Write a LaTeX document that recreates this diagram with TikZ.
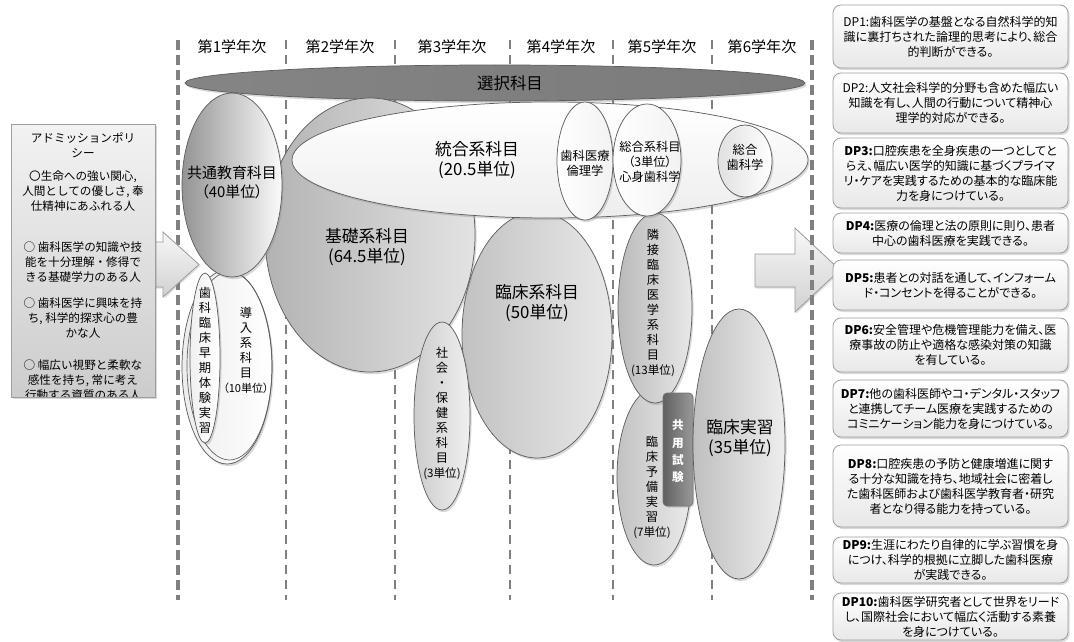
\documentclass[tikz,border=0pt]{standalone}
\usepackage{fontspec}
\setmainfont{Noto Sans CJK JP}
\newfontfamily\pfont{Noto Sans CJK JP}[RawFeature=+palt]
\usetikzlibrary{shapes.geometric,shadows}
\newcommand\pxu{0.75pt}
\newcommand\fsz[2]{\fontsize{#1}{#2}\selectfont}
\definecolor{dashc}{HTML}{808080}
\definecolor{edgec}{HTML}{5E5E5E}
\tikzset{
  ell/.style={ellipse, draw=edgec, line width=0.55pt, inner sep=0pt,
     drop shadow={opacity=0.3, shadow xshift=1.2pt, shadow yshift=-1.6pt}},
  thickdash/.style={draw=dashc, line width=2.6pt, dash pattern=on 7.5pt off 3.75pt},
  thindash/.style={draw=dashc, line width=1.1pt, dash pattern=on 6.75pt off 4.5pt},
  lbl/.style={align=center, inner sep=0pt, text=black},
  vtxt/.style={align=center, inner sep=0pt, font=\fsz{9.2}{11.25}},
  hdr/.style={inner sep=0pt, font=\fsz{11.3}{13}},
  blockarr/.style={draw=black!40, line width=0.6pt, top color=black!3, bottom color=black!18,
     drop shadow={opacity=0.25, shadow xshift=1pt, shadow yshift=-1.2pt}},
  dpbox/.style={rounded corners=6pt, draw=black!38, line width=0.6pt, top color=white, bottom color=black!9,
     drop shadow={opacity=0.3, shadow xshift=1.2pt, shadow yshift=-1.5pt},
     minimum width=235*\pxu, inner sep=0pt, align=center, font=\pfont\fsz{9}{11.25}},
  apbox/.style={draw=black!38, line width=0.6pt, top color=black!5, bottom color=black!20,
     drop shadow={opacity=0.3, shadow xshift=1.2pt, shadow yshift=-1.5pt},
     minimum width=144*\pxu, minimum height=273*\pxu, inner sep=0pt},
  aptxt/.style={align=center, inner sep=0pt, font=\fsz{8.7}{11.25}},
}
\begin{document}
\begin{tikzpicture}[x=0.75pt,y=-0.75pt]
\useasboundingbox (0,0) rectangle (1074,642);

% right block arrow (behind)
\coordinate (ra1) at (755,254);
\draw[blockarr] (ra1) -- (795,254) -- (795,228) -- (840,270) -- (795,312) -- (795,287) -- (755,287) -- cycle;

% vertical dashed year lines
\coordinate (vtL) at (178,40); \coordinate (vbL) at (178,600);
\coordinate (vtR) at (812,40); \coordinate (vbR) at (812,600);
\draw[thickdash] (vtL) -- (vbL);
\draw[thickdash] (vtR) -- (vbR);
\foreach \i/\x in {1/286,2/395,3/510,4/613,5/712}{
  \coordinate (vt\i) at (\x,40); \coordinate (vb\i) at (\x,600);
  \draw[thindash] (vt\i) -- (vb\i);
}

% year headers
\node[hdr] (y1) at (232,47) {第1学年次};
\node[hdr] (y2) at (340,47) {第2学年次};
\node[hdr] (y3) at (452,47) {第3学年次};
\node[hdr] (y4) at (561,47) {第4学年次};
\node[hdr] (y5) at (662,47) {第5学年次};
\node[hdr] (y6) at (762,47) {第6学年次};

% 選択科目
\node[ell, minimum width=620*\pxu, minimum height=36*\pxu, left color=black!48, middle color=white, right color=black!52] (sentaku) at (495,83) {};
\node[lbl, font=\fsz{12.3}{14}] (sentakuT) at (510,83) {選択科目};

% 導入系科目
\node[ell, minimum width=90*\pxu, minimum height=194*\pxu, left color=black!7, right color=white] (dounyu) at (227,367) {};
\node[ellipse, draw=edgec, line width=0.5pt, minimum width=85*\pxu, minimum height=188*\pxu, inner sep=0pt] (dounyu2) at (229.5,366) {};
\node[ell, minimum width=30*\pxu, minimum height=170*\pxu, left color=black!6, right color=white] (soki) at (205,358) {};
\node[vtxt] (sokiT) at (205,360.5) {歯\\科\\臨\\床\\早\\期\\体\\験\\実\\習};
\node[vtxt] (dounyuT) at (246,350) {導\\入\\系\\科\\目\\{\pfont\fsz{8.3}{11.25}（10単位）}};

% 臨床系科目
\node[ell, minimum width=150*\pxu, minimum height=246*\pxu, left color=black!24, right color=black!9] (rinsho) at (537,335) {};
\node[lbl, font=\fsz{12.6}{15}] (rinshoT) at (537,303) {臨床系科目\\(50単位)};

% 基礎系科目
\node[ell, minimum width=210*\pxu, minimum height=274*\pxu, left color=black!30, right color=black!11] (kiso) at (370,235) {};
\node[lbl, font=\fsz{12.6}{15}] (kisoT) at (367,247) {基礎系科目\\(64.5単位)};

% 社会・保健系科目
\node[ell, minimum width=56*\pxu, minimum height=188*\pxu, left color=black!20, right color=black!6] (shakai) at (442,416) {};
\node[vtxt] (shakaiT) at (442,413) {社\\会\\・\\保\\健\\系\\科\\目\\{\fsz{8.7}{11.25}(3単位)}};

% 共通教育科目
\node[ell, minimum width=100*\pxu, minimum height=184*\pxu, left color=black!42, right color=black!2] (kyotsu) at (232,185) {};
\node[lbl, font=\fsz{11.2}{14.25}] (kyotsuT) at (232,182.5) {共通教育科目\\{\pfont（40単位）}};

% 臨床予備実習
\node[ell, minimum width=74*\pxu, minimum height=176*\pxu, left color=black!24, right color=black!8] (yobi) at (654,477) {};
\node[vtxt] (yobiT) at (652,487) {臨\\床\\予\\備\\実\\習\\{\fsz{8.7}{11.25}(7単位)}};

% 隣接臨床医学系科目
\node[ell, minimum width=74*\pxu, minimum height=190*\pxu, left color=black!27, right color=black!9] (rinsetsu) at (655,308) {};
\node[vtxt] (rinsetsuT) at (653,302.5) {隣\\接\\臨\\床\\医\\学\\系\\科\\目\\{\fsz{8.7}{11.25}(13単位)}};

% 統合系科目
\node[ell, minimum width=516*\pxu, minimum height=116*\pxu, top color=white, bottom color=black!7] (tougou) at (550,160) {};
\node[lbl, font=\fsz{12.6}{15}] (tougouT) at (477,160) {統合系科目\\(20.5単位)};
\node[ell, minimum width=56*\pxu, minimum height=118*\pxu, left color=white, right color=black!5] (rinri) at (585,161) {};
\node[lbl, font=\fsz{9.2}{11}] (rinriT) at (585,163.5) {歯科医療\\倫理学};
\node[ell, minimum width=68*\pxu, minimum height=112*\pxu, left color=white, right color=black!5] (sougou) at (647,160) {};
\node[lbl, font=\fsz{9.2}{11.25}] (sougouT) at (650,162) {総合系科目\\{\pfont（3単位）}\\心身歯科学};
\node[ell, minimum width=54*\pxu, minimum height=72*\pxu, left color=black!12, right color=white] (sshika) at (745,161) {};
\node[lbl, font=\fsz{9.2}{11.25}] (sshikaT) at (745,157.5) {総合\\歯科学};

% 共用試験
\node[rounded corners=3pt, draw=black!55, line width=0.5pt, left color=black!62, right color=black!40,
      minimum width=30*\pxu, minimum height=113*\pxu, inner sep=0pt,
      drop shadow={opacity=0.3, shadow xshift=1pt, shadow yshift=-1.2pt}] (kyoyo) at (678,449.5) {};
\node[align=center, inner sep=0pt, text=white, font=\bfseries\fsz{8.7}{13}] (kyoyoT) at (678,451.5) {共\\用\\試\\験};

% 臨床実習
\node[ell, minimum width=92*\pxu, minimum height=270*\pxu, left color=black!25, right color=black!7] (jisshu) at (739,444) {};
\node[lbl, font=\fsz{12.6}{15}] (jisshuT) at (740,438) {臨床実習\\(35単位)};

% left block arrow
\draw[blockarr] (150,242) -- (163,242) -- (163,232) -- (199,264.5) -- (163,297) -- (163,287) -- (150,287) -- cycle;

% admission policy box
\node[apbox] (ap) at (83,260.5) {};
\begin{scope}
\clip (11,124) rectangle (155,397);
\node[aptxt] (ap0) at (83,145) {アドミッションポリ\\シー};
\node[aptxt] (ap1) at (83,191) {〇生命への強い関心,\\人間としての優しさ, 奉\\仕精神にあふれる人};
\node[aptxt] (ap2) at (83,262) {○ 歯科医学の知識や技\\能を十分理解・修得で\\きる基礎学力のある人};
\node[aptxt] (ap3) at (83,318) {○ 歯科医学に興味を持\\ち, 科学的探求心の豊\\かな人};
\node[aptxt] (ap4) at (83,380) {○ 幅広い視野と柔軟な\\感性を持ち, 常に考え\\行動する資質のある人};
\end{scope}
\draw[draw=black!38, line width=0.6pt] (11,124) rectangle (155,397);

% DP boxes
\node[dpbox, minimum height=63*\pxu] (dp1) at (950.5,36.5) {DP1:歯科医学の基盤となる自然科学的知\\識に裏打ちされた論理的思考により、総合\\的判断ができる。};
\node[dpbox, minimum height=60*\pxu] (dp2) at (950.5,103) {DP2:人文社会科学的分野も含めた幅広い\\知識を有し、人間の行動について精神心\\理学的対応ができる。};
\node[dpbox, minimum height=70*\pxu] (dp3) at (950.5,173) {\textbf{DP3:}口腔疾患を全身疾患の一つとしてと\\らえ、幅広い医学的知識に基づくプライマ\\リ・ケアを実践するための基本的な臨床能\\力を身につけている。};
\node[dpbox, minimum height=40*\pxu] (dp4) at (950.5,233) {\textbf{DP4:}医療の倫理と法の原則に則り、患者\\中心の歯科医療を実践できる。};
\node[dpbox, minimum height=50*\pxu] (dp5) at (950.5,285) {\textbf{DP5:}患者との対話を通して、インフォーム\\ド・コンセントを得ることができる。};
\node[dpbox, minimum height=54*\pxu] (dp6) at (950.5,345) {\textbf{DP6:}安全管理や危機管理能力を備え、医\\療事故の防止や適格な感染対策の知識\\を有している。};
\node[dpbox, minimum height=57*\pxu] (dp7) at (950.5,408.5) {\textbf{DP7:}他の歯科医師やコ・デンタル・スタッフ\\と連携してチーム医療を実践するための\\コミニケーション能力を身につけている。};
\node[dpbox, minimum height=82*\pxu] (dp8) at (950.5,486) {\textbf{DP8:}口腔疾患の予防と健康増進に関す\\る十分な知識を持ち、地域社会に密着し\\た歯科医師および歯科医学教育者・研究\\者となり得る能力を持っている。};
\node[dpbox, minimum height=46*\pxu] (dp9) at (950.5,560) {\textbf{DP9:}生涯にわたり自律的に学ぶ習慣を身\\につけ、科学的根拠に立脚した歯科医療\\が実践できる。};
\node[dpbox, minimum height=47*\pxu] (dp10) at (950.5,616.5) {\textbf{DP10:}歯科医学研究者として世界をリード\\し、国際社会において幅広く活動する素養\\を身につけている。};

\end{tikzpicture}
\end{document}
